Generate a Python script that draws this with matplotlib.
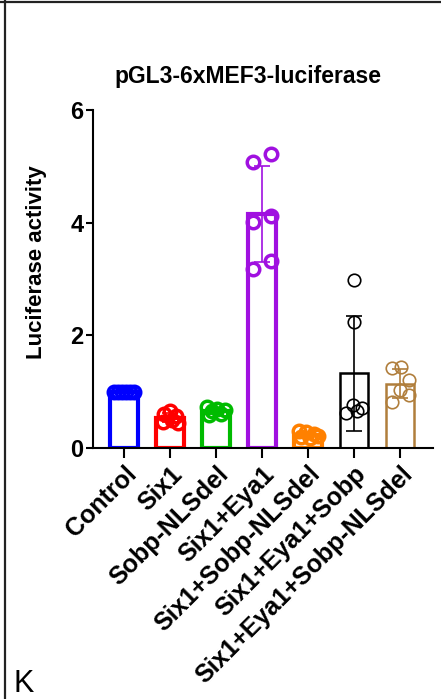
import numpy as np
import matplotlib
matplotlib.use("Agg")
import matplotlib.pyplot as plt
from matplotlib.lines import Line2D

plt.rcParams['font.family'] = ['Liberation Sans', 'DejaVu Sans']

groups = ["Control", "Six1", "Sobp-NLSdel", "Six1+Eya1", "Six1+Sobp-NLSdel",
          "Six1+Eya1+Sobp", "Six1+Eya1+Sobp-NLSdel"]
control = [1.0, 1.0, 1.0, 1.0, 1.0, 1.0]
six1 = [0.65, 0.60, 0.56, 0.47, 0.44, 0.50]
sobp_nlsdel = [0.72, 0.70, 0.68, 0.66, 0.60, 0.58]
six1_eya1 = [5.07, 5.22, 4.02, 4.11, 3.17, 3.32]
six1_sobp_nlsdel = [0.30, 0.28, 0.25, 0.22, 0.20, 0.18]
six1_eya1_sobp = [2.98, 2.24, 0.62, 0.76, 0.71, 0.65]
six1_eya1_sobp_nlsdel = [1.42, 1.44, 1.21, 1.03, 0.94, 0.82]
all_vals = [control, six1, sobp_nlsdel, six1_eya1, six1_sobp_nlsdel,
            six1_eya1_sobp, six1_eya1_sobp_nlsdel]

colors = ["#0000FF", "#FF0000", "#00BB00", "#A010E0", "#FF8000", "#000000", "#B07E3C"]
bar_lw = [3, 3, 3, 3, 3, 1.8, 1.8]
mk_lw = [2.5, 2.5, 2.5, 2.5, 2.5, 1.2, 1.2]

# horizontal scatter of the points within each bar
jitter = [
    [-0.22, -0.12, -0.04, 0.04, 0.12, 0.22],
    [0.0, -0.12, 0.12, -0.15, 0.18, 0.05],
    [-0.2, 0.02, 0.2, -0.08, 0.1, -0.15],
    [-0.2, 0.2, -0.2, 0.2, -0.2, 0.2],
    [-0.2, -0.05, 0.12, 0.22, -0.15, 0.05],
    [0.0, 0.0, -0.17, -0.03, 0.17, 0.07],
    [-0.18, 0.02, 0.2, 0.0, 0.2, -0.18],
]

fig = plt.figure(figsize=(4.41, 6.99), dpi=100)
ax = fig.add_axes([93 / 441, 1 - 448 / 699, 340 / 441, 338 / 699])

x = np.arange(len(groups))
for i, vals in enumerate(all_vals):
    v = np.array(vals)
    m = v.mean()
    sd = v.std(ddof=1)
    ax.bar(x[i], m, width=0.6, facecolor="white", edgecolor=colors[i],
           linewidth=bar_lw[i], zorder=2)
    ax.errorbar(x[i], m, yerr=sd, color=colors[i], capsize=5.5, elinewidth=1.2,
                capthick=1.2, zorder=3)
    ax.plot(x[i] + np.array(jitter[i]), v, "o", ms=9, mfc="none",
            mec=colors[i], mew=mk_lw[i], zorder=4, clip_on=False)

ax.set_xlim(-0.674, 6.717)
ax.set_ylim(0, 6)
ax.set_yticks([0, 2, 4, 6])
ax.set_xticks(x)
ax.set_xticklabels(groups, rotation=45, ha="right", rotation_mode="anchor",
                   fontsize=18, fontweight="bold")
for lab in ax.get_yticklabels():
    lab.set_fontweight("bold")
    lab.set_fontsize(17)
ax.spines["top"].set_visible(False)
ax.spines["right"].set_visible(False)
ax.spines["left"].set_linewidth(1.5)
ax.spines["bottom"].set_linewidth(1.5)
ax.tick_params(axis="y", length=5, width=1.5, pad=2)
ax.tick_params(axis="x", length=7, width=1.5, pad=3)

fig.text(248 / 441, 1 - 77 / 699, "pGL3-6xMEF3-luciferase", ha="center",
         va="center", fontsize=16.5, fontweight="bold")
fig.text(37 / 441, 1 - 262 / 699, "Luciferase activity", rotation=90,
         ha="center", va="center", fontsize=16, fontweight="bold")
fig.text(13 / 441, 1 - 692 / 699, "K", fontsize=22, ha="left", va="baseline")

# panel frame (left and top edges)
fig.add_artist(Line2D([5 / 441, 5 / 441], [0, 1], color="#222222", lw=1.6))
fig.add_artist(Line2D([0, 1], [1 - 1.5 / 699, 1 - 1.5 / 699], color="#222222", lw=1.6))

fig.savefig("out.png", dpi=100)
